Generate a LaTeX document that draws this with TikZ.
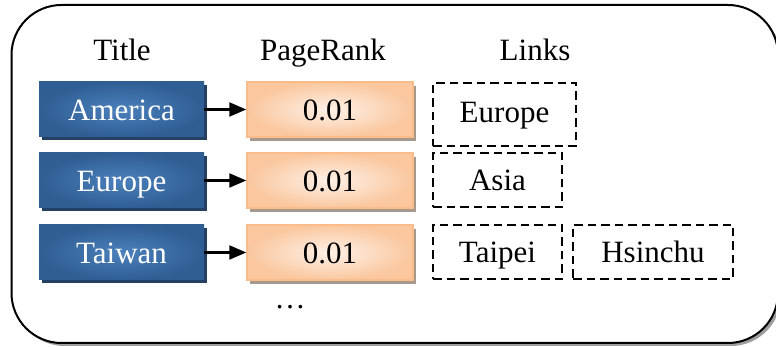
\documentclass[tikz,border=0pt]{standalone}
\usepackage{fontspec}
\setmainfont{Liberation Serif}
\usetikzlibrary{arrows.meta,shadows}
\definecolor{bluein}{HTML}{4B80BB}
\definecolor{blueout}{HTML}{2F5E94}
\definecolor{blueshadow}{HTML}{233F62}
\definecolor{orin}{HTML}{FEF1E8}
\definecolor{orout}{HTML}{FAC79E}
\definecolor{ordraw}{HTML}{F9BC8A}
\definecolor{orshadow}{HTML}{A6988A}
\tikzset{
  txt/.style={font=\fontsize{31}{36}\selectfont, text height=22pt, text depth=0pt, inner sep=0pt},
  titlebox/.style={txt, text=white, minimum width=165pt, minimum height=55pt,
    inner color=bluein, outer color=blueout,
    drop shadow={shadow xshift=3pt, shadow yshift=-3.5pt, fill=blueshadow, opacity=1}},
  rankbox/.style={txt, minimum width=166pt, minimum height=55pt, draw=ordraw, line width=1.5pt,
    inner color=orin, outer color=orout,
    drop shadow={shadow xshift=3pt, shadow yshift=-4pt, fill=orshadow, opacity=1}},
  linkbox/.style={txt, draw=black, line width=2.3pt, dash pattern=on 8.5pt off 5pt, minimum height=54pt},
  header/.style={font=\fontsize{31}{36}\selectfont, inner sep=0pt, anchor=base},
  conn/.style={line width=2.2pt, -{Triangle[length=17pt,width=14pt]}}
}
\begin{document}
\begin{tikzpicture}[x=1pt,y=1pt]
\useasboundingbox (0,0) rectangle (776,347);
\fill[gray!75, rounded corners=50pt] (14.5,1) rectangle (781,339);
\draw[line width=2pt, fill=white, rounded corners=50pt] (11.5,4) rectangle (778,342);

\node[header] (hT) at (122,286) {Title};
\node[header] (hP) at (323,286) {PageRank};
\node[header] (hL) at (535,286) {Links};

\node[titlebox] (t1) at (121.5,237.5) {America};
\node[titlebox] (t2) at (121.5,166.5) {Europe};
\node[titlebox] (t3) at (121.5,94.5) {Taiwan};

\node[rankbox] (r1) at (330,237.5) {0.01};
\node[rankbox] (r2) at (330,166.5) {0.01};
\node[rankbox] (r3) at (330,94.5) {0.01};

\draw[conn] (t1) -- (r1);
\draw[conn] (t2) -- (r2);
\draw[conn] (t3) -- (r3);

\node[linkbox, minimum width=143pt, minimum height=63pt, text depth=6pt] (l1) at (504.5,232.5) {Europe};
\node[linkbox, minimum width=129pt] (l2) at (497.5,167) {Asia};
\node[linkbox, minimum width=129pt] (l3) at (497.5,95) {Taipei};
\node[linkbox, minimum width=160pt] (l4) at (653,95) {Hsinchu};

\node[header] (dots) at (290,38) {…};
\end{tikzpicture}
\end{document}
